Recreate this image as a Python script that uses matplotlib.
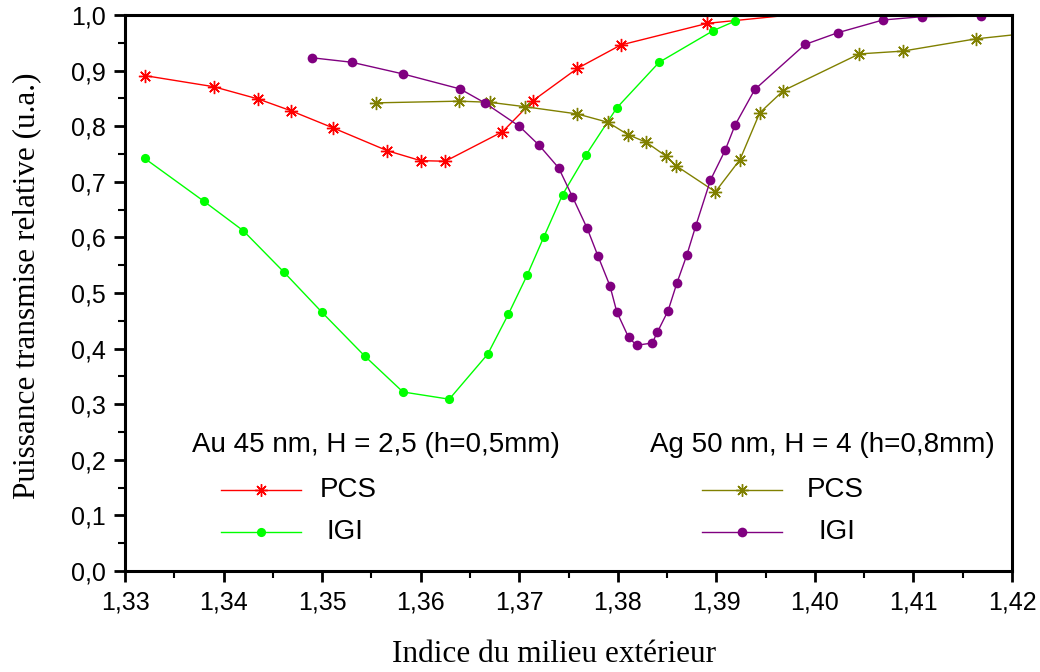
import numpy as np
import matplotlib
matplotlib.use('Agg')
import matplotlib.pyplot as plt
from matplotlib.ticker import MultipleLocator, FuncFormatter

# ── Data ────────────────────────────────────────────────────────────────────
# Au 45 nm, H = 2,5 (h=0,5mm)
au_pcs_x = [1.3320, 1.3390, 1.3435, 1.3468, 1.3511, 1.3566, 1.3600, 1.3625,
            1.3683, 1.3714, 1.3759, 1.3803, 1.3891, 1.3975, 1.4300]
au_pcs_y = [0.891, 0.871, 0.849, 0.828, 0.797, 0.756, 0.738, 0.737,
            0.790, 0.846, 0.904, 0.946, 0.985, 1.000, 1.000]

au_igi_x = [1.3320, 1.3380, 1.3420, 1.3461, 1.3500, 1.3543, 1.3582, 1.3629,
            1.3668, 1.3689, 1.3708, 1.3725, 1.3744, 1.3768, 1.3799, 1.3842,
            1.3897, 1.3919]
au_igi_y = [0.742, 0.665, 0.612, 0.538, 0.465, 0.387, 0.322, 0.309,
            0.390, 0.462, 0.532, 0.601, 0.677, 0.749, 0.833, 0.915,
            0.972, 0.989]

# Ag 50 nm, H = 4 (h=0,8mm)
ag_pcs_x = [1.3555, 1.3639, 1.3670, 1.3706, 1.3759, 1.3790, 1.3810, 1.3829,
            1.3849, 1.3859, 1.3899, 1.3924, 1.3944, 1.3968, 1.4045, 1.4089,
            1.4163, 1.4200]
ag_pcs_y = [0.842, 0.845, 0.843, 0.835, 0.822, 0.807, 0.785, 0.771,
            0.746, 0.729, 0.682, 0.740, 0.824, 0.864, 0.930, 0.935,
            0.957, 0.964]

ag_igi_x = [1.3490, 1.3530, 1.3582, 1.3640, 1.3665, 1.3700, 1.3720, 1.3740,
            1.3754, 1.3769, 1.3780, 1.3792, 1.3799, 1.3811, 1.3819, 1.3835,
            1.3840, 1.3851, 1.3860, 1.3870, 1.3879, 1.3894, 1.3909, 1.3919,
            1.3939, 1.3990, 1.4023, 1.4069, 1.4109, 1.4169]
ag_igi_y = [0.923, 0.915, 0.894, 0.867, 0.842, 0.800, 0.766, 0.725,
            0.673, 0.616, 0.566, 0.513, 0.466, 0.420, 0.406, 0.410,
            0.429, 0.468, 0.518, 0.568, 0.620, 0.703, 0.757, 0.802,
            0.866, 0.947, 0.968, 0.991, 0.997, 0.998]

title_au = 'Au 45 nm, H = 2,5 (h=0,5mm)'
title_ag = 'Ag 50 nm, H = 4 (h=0,8mm)'

red, green, olive, purple = '#ff0000', '#00ff00', '#808000', '#800080'
star = (8, 2, 0)   # 8-arm asterisk

sans = 'Liberation Sans'
serif = 'Liberation Serif'

fig = plt.figure(figsize=(10.4, 6.72), dpi=100)
ax = fig.add_axes([0.1202, 0.1503, 0.8529, 0.8274])

ax.plot(au_pcs_x, au_pcs_y, color=red, lw=1, marker=star, ms=9.5, mew=1,
        markevery=list(range(len(au_pcs_x) - 2)))
ax.plot(au_igi_x, au_igi_y, color=green, lw=1, marker='o', ms=6.6, mew=0)
ax.plot(ag_pcs_x, ag_pcs_y, color=olive, lw=1, marker=star, ms=9.5, mew=1,
        markevery=list(range(len(ag_pcs_x) - 1)))
ax.plot(ag_igi_x, ag_igi_y, color=purple, lw=1, marker='o', ms=7, mew=0)

ax.set_xlim(1.33, 1.42)
ax.set_ylim(0, 1.0)

ax.xaxis.set_major_locator(MultipleLocator(0.01))
ax.xaxis.set_minor_locator(MultipleLocator(0.005))
ax.yaxis.set_major_locator(MultipleLocator(0.1))
ax.yaxis.set_minor_locator(MultipleLocator(0.05))
ax.xaxis.set_major_formatter(FuncFormatter(lambda v, p: f'{v:.2f}'.replace('.', ',')))
ax.yaxis.set_major_formatter(FuncFormatter(lambda v, p: f'{v:.1f}'.replace('.', ',')))

ax.tick_params(which='major', direction='out', length=8, width=2, labelsize=18, pad=6)
ax.tick_params(which='minor', direction='out', length=5, width=1.5)
for lab in ax.get_xticklabels() + ax.get_yticklabels():
    lab.set_fontfamily(sans)
for s in ax.spines.values():
    s.set_linewidth(2.2)

ax.set_xlabel('Indice du milieu extérieur', fontfamily=serif, fontsize=22.5, va='center')
ax.xaxis.set_label_coords(0.4837, -0.151)
ax.set_ylabel('Puissance transmise relative (u.a.)', fontfamily=serif, fontsize=22.5, va='center')
ax.yaxis.set_label_coords(-0.1105, 0.5126)

# ── Hand-placed legends (axes coordinates) ──────────────────────────────────
def legend_row(x0, x1, y, color, marker, ms, label, tx):
    ax.plot([x0, x1], [y, y], color=color, lw=1, transform=ax.transAxes, clip_on=False)
    ax.plot([(x0 + x1) / 2], [y], color=color, marker=marker, ms=ms, mew=1 if marker == star else 0,
            transform=ax.transAxes, clip_on=False)
    ax.text(tx, y, label, transform=ax.transAxes, fontfamily=sans, fontsize=20,
            va='center', ha='left')

ax.text(0.0755, 0.2266, title_au, transform=ax.transAxes, fontfamily=sans,
        fontsize=20, va='center', ha='left')
legend_row(0.1082, 0.1984, 0.1457, red, star, 9, 'PCS', 0.2198)
legend_row(0.1082, 0.1984, 0.0701, green, 'o', 6.6, 'IGI', 0.2277)

ax.text(0.9808, 0.2266, title_ag, transform=ax.transAxes, fontfamily=sans,
        fontsize=20, va='center', ha='right')
legend_row(0.6505, 0.7407, 0.1457, olive, star, 9, 'PCS', 0.7689)
legend_row(0.6505, 0.7407, 0.0701, purple, 'o', 7, 'IGI', 0.7813)

plt.savefig('out.png', dpi=100)
